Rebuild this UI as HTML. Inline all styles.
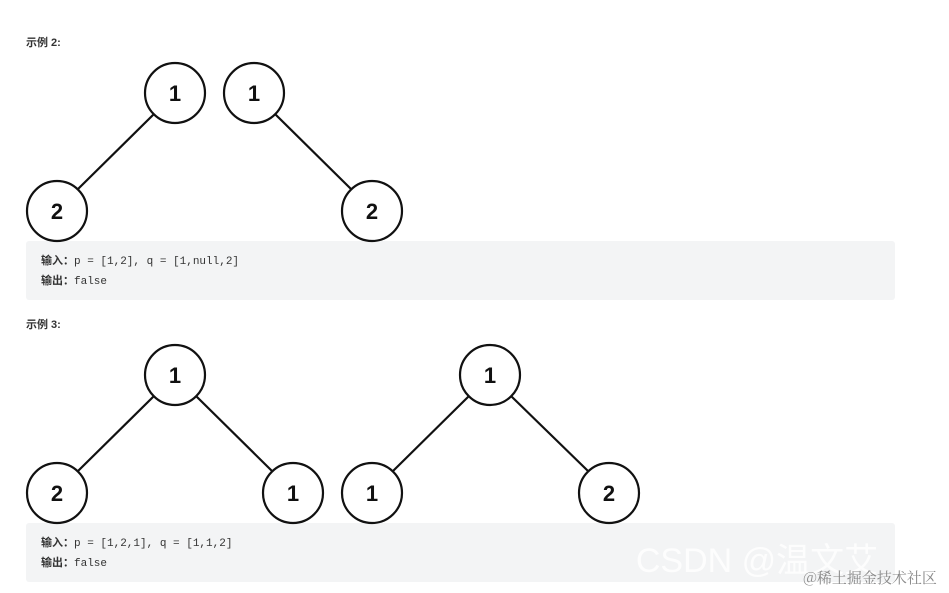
<!DOCTYPE html>
<html><head><meta charset="utf-8"><style>
body{margin:0;width:949px;height:593px;background:#fff;position:relative;overflow:hidden;font-family:"Liberation Sans","Noto Sans CJK SC",sans-serif}
.t{position:absolute;left:26px;font-size:11px;font-weight:bold;color:#333}
.box{position:absolute;left:26px;width:869px;height:59px;background:#f3f4f5;border-radius:3px}
.ln{position:absolute;left:15px;font-size:11px;color:#333;font-family:"Liberation Mono","Noto Sans CJK SC",monospace}
.ln b{font-family:"Liberation Sans","Noto Sans CJK SC",sans-serif}
svg{position:absolute;left:0;top:0}
</style></head><body>
<div class="t" style="top:34px">示例 2:</div>
<div class="box" style="top:241px"><div class="ln" style="top:11px"><b>输入：</b>p = [1,2], q = [1,null,2]</div><div class="ln" style="top:31px"><b>输出：</b>false</div></div>
<div class="t" style="top:316px">示例 3:</div>
<div class="box" style="top:523px"><div class="ln" style="top:11px"><b>输入：</b>p = [1,2,1], q = [1,1,2]</div><div class="ln" style="top:31px"><b>输出：</b>false</div></div>
<svg width="949" height="593" font-family="Liberation Sans,sans-serif" font-weight="bold" font-size="22" text-anchor="middle">
<g stroke="#111" stroke-width="2.2" fill="none">
<line x1="154" y1="114" x2="78" y2="189"/>
<line x1="275" y1="114" x2="351" y2="189"/>
<line x1="154" y1="396" x2="78" y2="471"/>
<line x1="196" y1="396" x2="272" y2="471"/>
<line x1="469" y1="396" x2="393" y2="471"/>
<line x1="511" y1="396" x2="588" y2="471"/>
<circle cx="175" cy="93" r="30"/><circle cx="254" cy="93" r="30"/>
<circle cx="57" cy="211" r="30"/><circle cx="372" cy="211" r="30"/>
<circle cx="175" cy="375" r="30"/><circle cx="490" cy="375" r="30"/>
<circle cx="57" cy="493" r="30"/><circle cx="293" cy="493" r="30"/>
<circle cx="372" cy="493" r="30"/><circle cx="609" cy="493" r="30"/>
</g>
<g fill="#111">
<text x="175" y="101">1</text><text x="254" y="101">1</text>
<text x="57" y="219">2</text><text x="372" y="219">2</text>
<text x="175" y="383">1</text><text x="490" y="383">1</text>
<text x="57" y="501">2</text><text x="293" y="501">1</text>
<text x="372" y="501">1</text><text x="609" y="501">2</text>
</g>
<text x="757" y="572" font-size="34" font-weight="normal" fill="#fff" fill-opacity="0.8" font-family="Liberation Sans,Noto Sans CJK SC,sans-serif">CSDN @温文艾</text>
<text x="870" y="583" font-size="15" font-weight="normal" fill="#888" font-family="Noto Serif CJK SC,serif">@稀土掘金技术社区</text>
</svg>
</body></html>
